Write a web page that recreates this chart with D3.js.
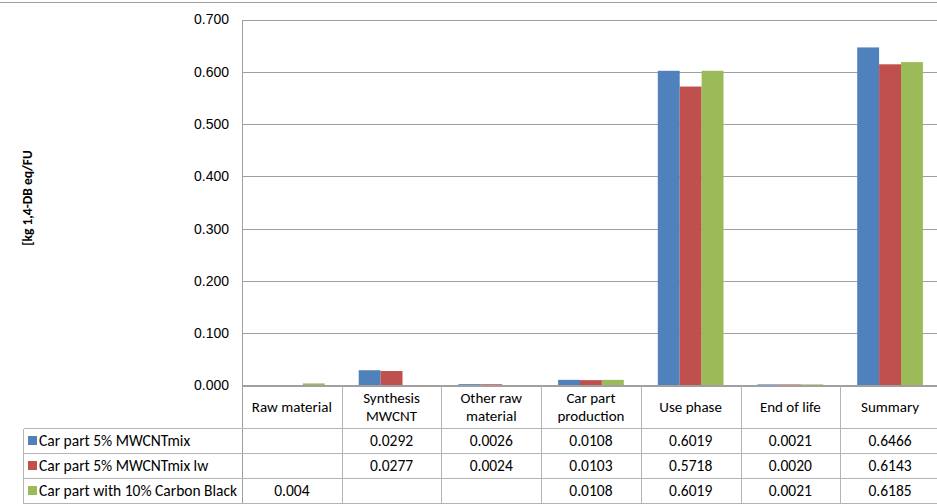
<!DOCTYPE html>
<html>
<head>
<meta charset="utf-8">
<script src="https://cdn.jsdelivr.net/npm/d3@7"></script>
<style>
	body { margin: 0; background: #fff; }
	svg { font-family: Calibri, Carlito, Lato, sans-serif; font-size: 15.5px; }
	.grid line { stroke: #a0a0a0; shape-rendering: crispEdges; }
	.tbl line { stroke: #b4b4b4; shape-rendering: crispEdges; }
	.axis path, .axis line { display: none; }
	.axis text { fill: #000; font-size: 14px; }
	.head { font-size: 15px; }
</style>
</head>
<body>
<script>
var categories = ["Raw material", "Synthesis\nMWCNT", "Other raw\nmaterial", "Car part\nproduction", "Use phase", "End of life", "Summary"];
var seriesNames = ["Car part 5% MWCNTmix", "Car part 5% MWCNTmix lw", "Car part with 10% Carbon Black"];
var seriesColors = ["#4f81bd", "#c0504d", "#9bbb59"];
// null = empty cell in the table
var mwcntMix   = [null, 0.0292, 0.0026, 0.0108, 0.6019, 0.0021, 0.6466];
var mwcntMixLw = [null, 0.0277, 0.0024, 0.0103, 0.5718, 0.0020, 0.6143];
var carbonBlack = [0.004, null, null, 0.0108, 0.6019, 0.0021, 0.6185];
var yTicks = [0, 0.1, 0.2, 0.3, 0.4, 0.5, 0.6, 0.7];
var tableLabels = [["", "", ""], ["0.0292", "0.0277", ""], ["0.0026", "0.0024", ""], ["0.0108", "0.0103", "0.0108"], ["0.6019", "0.5718", "0.6019"], ["0.0021", "0.0020", "0.0021"], ["0.6466", "0.6143", "0.6185"]];
var rawLabel = "0.004";
var yTitle = "[kg 1,4-DB eq/FU";

var W = 937, H = 504;
var left = 242, colW = 99.7;
var yTop = 19.5, yZero = 385.5;
var rowH = 25, headH = 43, tableLeft = 23.5;

var series = [mwcntMix, mwcntMixLw, carbonBlack];

var svg = d3.select("body").append("svg")
	.attr("width", W)
	.attr("height", H);

// top border of the picture
svg.append("line")
	.attr("x1", 0).attr("x2", W).attr("y1", 2.5).attr("y2", 2.5)
	.attr("stroke", "#a0a0a0");

var x0 = d3.scaleBand()
	.domain(d3.range(categories.length))
	.range([left, left + colW * categories.length]);

var x1 = d3.scaleBand()
	.domain(d3.range(series.length))
	.range([17, colW - 17]);

var y = d3.scaleLinear()
	.domain([0, 0.7])
	.range([yZero, yTop]);

// gridlines
svg.append("g").attr("class", "grid")
	.selectAll("line")
	.data(yTicks)
	.enter().append("line")
	.attr("x1", left).attr("x2", W)
	.attr("y1", function (d) { return Math.round(y(d)) + 0.5; })
	.attr("y2", function (d) { return Math.round(y(d)) + 0.5; });

svg.append("g")
	.attr("class", "axis")
	.attr("transform", "translate(" + (left - 13) + ",0)")
	.call(d3.axisLeft(y).tickValues(yTicks).tickFormat(d3.format(".3f")).tickSize(0).tickPadding(0));

// bars
var groups = svg.selectAll("g.cat")
	.data(categories)
	.enter().append("g")
	.attr("class", "cat")
	.attr("transform", function (d, i) { return "translate(" + x0(i) + ",0)"; });

groups.selectAll("rect")
	.data(function (d, i) {
		return series.map(function (s, j) { return { j: j, v: s[i] }; }).filter(function (e) { return e.v !== null; });
	})
	.enter().append("rect")
	.attr("x", function (d) { return x1(d.j); })
	.attr("width", x1.bandwidth())
	.attr("y", function (d) { return y(d.v); })
	.attr("height", function (d) { return yZero - y(d.v); })
	.attr("fill", function (d) { return seriesColors[d.j]; });

// axis line (left)
svg.append("line")
	.attr("x1", left + 0.5).attr("x2", left + 0.5)
	.attr("y1", yTop).attr("y2", H)
	.attr("stroke", "#a0a0a0")
	.style("shape-rendering", "crispEdges");

// data table
var tbl = svg.append("g").attr("class", "tbl");
var rowTop = yZero + headH;

tbl.append("line")
	.attr("x1", left).attr("x2", W).attr("y1", yZero).attr("y2", yZero)
	.style("stroke", "#a0a0a0");

d3.range(4).forEach(function (r) {
	tbl.append("line")
		.attr("x1", tableLeft).attr("x2", W)
		.attr("y1", rowTop + r * rowH).attr("y2", rowTop + r * rowH);
});

tbl.append("line")
	.attr("x1", tableLeft).attr("x2", tableLeft)
	.attr("y1", rowTop).attr("y2", rowTop + 3 * rowH);

d3.range(1, categories.length + 1).forEach(function (i) {
	var xx = Math.round(x0(0) + i * colW) + 0.5;
	tbl.append("line")
		.attr("x1", xx).attr("x2", xx)
		.attr("y1", yZero).attr("y2", rowTop + 3 * rowH);
});

// header labels, one text per line
categories.forEach(function (c, i) {
	var lines = c.split("\n");
	lines.forEach(function (l, k) {
		svg.append("text")
			.attr("class", "head")
			.attr("text-anchor", "middle")
			.attr("x", x0(i) + colW / 2)
			.attr("y", yZero + headH / 2 + 5 - (lines.length - 1) * 9 + k * 18)
			.text(l);
	});
});

// row labels with legend keys
seriesNames.forEach(function (s, r) {
	var cy = rowTop + r * rowH + rowH / 2;
	svg.append("rect")
		.attr("x", 28).attr("y", cy - 5)
		.attr("width", 9).attr("height", 9)
		.attr("fill", seriesColors[r]);
	svg.append("text")
		.attr("x", 39).attr("y", cy + 5)
		.text(s);
});

// cell values
tableLabels.forEach(function (col, i) {
	col.forEach(function (v, r) {
		var txt = (i === 0 && r === 2) ? rawLabel : v;
		if (!txt) return;
		svg.append("text")
			.attr("text-anchor", "middle")
			.attr("x", x0(i) + colW / 2)
			.attr("y", rowTop + r * rowH + rowH / 2 + 5)
			.text(txt);
	});
});

// y title
svg.append("text")
	.attr("transform", "translate(32,198) rotate(-90)")
	.attr("text-anchor", "middle")
	.style("font-weight", "bold")
	.style("font-size", "13.5px")
	.text(yTitle);
</script>
</body>
</html>
